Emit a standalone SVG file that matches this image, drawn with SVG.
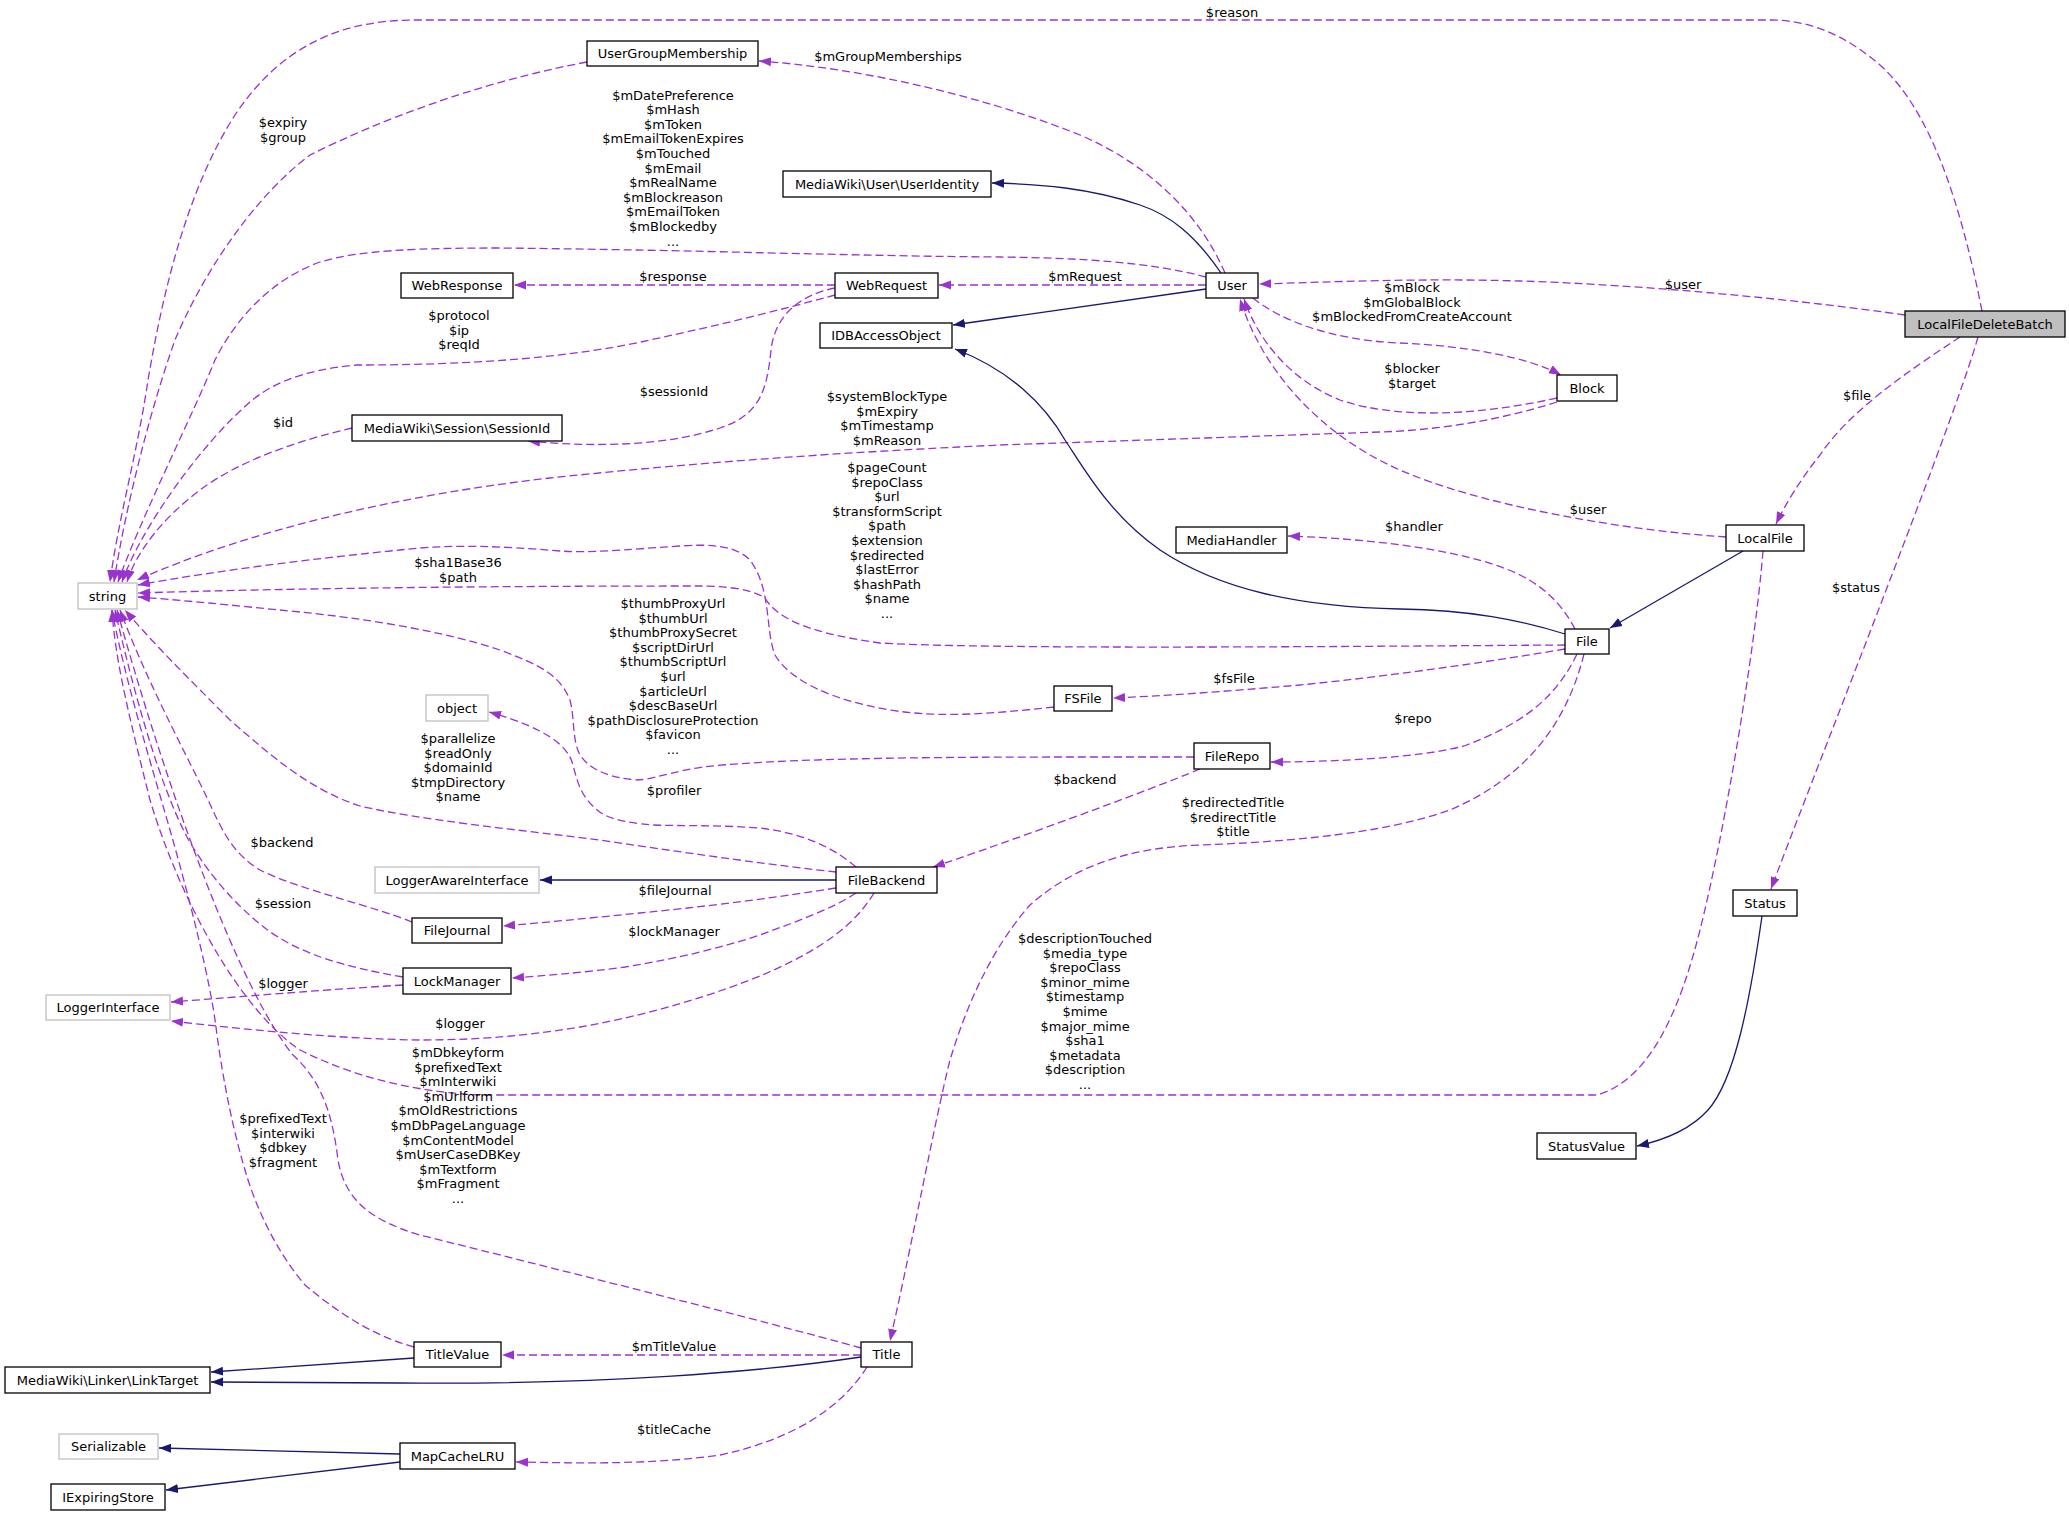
<svg xmlns="http://www.w3.org/2000/svg" width="2069" height="1516" viewBox="0 0 2069 1516">
<style>
text{font-family:"DejaVu Sans","Liberation Sans",sans-serif;font-size:13px;fill:#000}
.nt{text-anchor:middle}
.lb{text-anchor:middle}
.n rect{fill:#fff;stroke:#000;stroke-width:1.3}
.g rect{fill:#fff;stroke:#bfbfbf;stroke-width:1.3}
.c rect{fill:#bfbfbf;stroke:#000;stroke-width:1.3}
.e{fill:none;stroke:#9a32cd;stroke-width:1.3;stroke-dasharray:8,4;marker-end:url(#ap)}
.i{fill:none;stroke:#191970;stroke-width:1.3;marker-end:url(#ab)}
</style>
<defs>
<marker id="ap" markerWidth="13" markerHeight="10" refX="12" refY="5" orient="auto" markerUnits="userSpaceOnUse"><path d="M0,0.5 L12,5 L0,9.5 z" fill="#9a32cd" stroke="none"/></marker>
<marker id="ab" markerWidth="13" markerHeight="10" refX="12" refY="5" orient="auto" markerUnits="userSpaceOnUse"><path d="M0,0.5 L12,5 L0,9.5 z" fill="#191970" stroke="none"/></marker>
</defs>
<rect width="2069" height="1516" fill="#fff"/>
<g id="edges">
<path class="e" d="M1982,311 C1960,200 1930,110 1880,65 C1845,35 1810,20 1770,20 L415,20 C330,20 275,55 235,115 C190,185 165,280 148,380 C138,450 118,520 110,582"/>
<path class="e" d="M1905,315 C1800,300 1650,285 1520,281 C1420,278 1330,282 1259,284"/>
<path class="e" d="M1960,337 C1910,370 1850,410 1820,455 C1800,480 1785,505 1776,524"/>
<path class="e" d="M1978,337 C1955,420 1800,810 1771,889"/>
<path class="i" d="M1743,551 L1610,628"/>
<path class="e" d="M1726,537 C1620,530 1480,505 1400,470 C1320,435 1262,370 1240,299"/>
<path class="e" d="M1557,398 C1480,415 1400,420 1340,400 C1290,380 1258,340 1244,299"/>
<path class="e" d="M1253,298 C1280,320 1330,340 1400,343 C1470,346 1530,358 1561,375"/>
<path class="e" d="M1557,402 C1500,420 1440,430 1380,432 L1000,445 C850,452 700,462 550,478 C400,495 250,530 137,580"/>
<path class="e" d="M1206,277 C1150,262 1080,258 1000,257 C850,256 700,250 500,248 C420,248 360,250 320,262 C270,280 235,320 215,360 C195,410 140,520 118,582"/>
<path class="e" d="M835,295 C780,310 720,325 650,340 C570,358 470,365 357,365 C300,370 270,385 250,402 C200,445 140,530 122,582"/>
<path class="e" d="M835,288 C800,295 775,315 771,350 C767,390 760,415 720,428 C670,445 600,448 528,441"/>
<path class="e" d="M352,428 C300,440 240,460 200,490 C160,520 135,555 127,582"/>
<path class="e" d="M587,62 C480,82 380,120 310,155 C250,200 200,280 175,340 C150,410 125,510 114,582"/>
<path class="e" d="M1225,273 C1200,215 1150,165 1080,135 C980,95 860,68 759,61"/>
<path class="i" d="M1221,273 C1195,235 1170,215 1140,205 C1090,188 1040,184 992,183"/>
<path class="i" d="M1206,289 L953,325"/>
<path class="e" d="M1206,285 L939,285"/>
<path class="e" d="M835,285 L514,285"/>
<path class="i" d="M1565,634 C1520,620 1470,610 1400,609 C1300,607 1220,590 1160,550 C1110,515 1085,470 1065,440 C1045,405 1010,370 955,349"/>
<path class="e" d="M1575,629 C1565,610 1550,590 1520,575 C1480,555 1400,540 1288,536"/>
<path class="e" d="M1565,645 C1400,646 1000,650 880,643 C800,632 775,615 765,598 C750,588 720,586 700,586 C500,586 300,588 138,593"/>
<path class="e" d="M1054,707 C990,714 940,718 890,710 C830,700 790,680 775,655 C765,630 772,590 750,560 C735,545 710,544 680,546 C620,550 590,553 560,551 C500,546 450,544 400,550 C320,558 220,570 138,585"/>
<path class="e" d="M1194,757 C1000,757 800,756 703,767 C670,772 650,780 637,780 C610,778 590,770 580,755 C572,740 575,720 570,700 C560,675 540,665 500,650 C440,630 360,618 300,612 C230,605 180,600 138,597"/>
<path class="e" d="M856,867 C830,845 800,833 760,828 C720,825 680,826 653,825 C620,822 605,818 595,808 C580,795 577,780 573,765 C568,745 545,728 489,712"/>
<path class="e" d="M836,872 C780,866 700,855 600,840 C520,830 420,820 360,806 C310,790 270,755 230,720 C190,680 150,640 125,610"/>
<path class="i" d="M836,880 L540,880"/>
<path class="e" d="M836,888 C760,900 700,907 640,913 C590,918 540,923 503,926"/>
<path class="e" d="M856,893 C830,910 795,922 760,935 C720,948 680,958 625,967 C580,973 540,976 512,978"/>
<path class="e" d="M874,893 C855,925 820,950 767,973 C720,993 650,1015 580,1027 C520,1037 470,1040 420,1040 C340,1039 250,1030 171,1021"/>
<path class="e" d="M412,922 C370,905 300,890 260,870 C235,855 225,835 215,815 C195,770 150,690 120,610"/>
<path class="e" d="M403,977 C350,968 300,955 265,928 C235,905 205,870 187,837 C165,795 140,720 115,610"/>
<path class="e" d="M403,985 C320,990 250,996 171,1002"/>
<path class="e" d="M1763,551 C1755,650 1725,830 1700,930 C1680,1010 1650,1080 1597,1095 L480,1095 C420,1092 360,1080 300,1050 C240,1010 180,900 150,800 C130,720 115,660 112,610"/>
<path class="e" d="M1565,649 C1500,660 1400,675 1300,685 C1220,692 1160,696 1113,698"/>
<path class="e" d="M1577,654 C1555,700 1520,725 1464,746 C1420,758 1330,762 1271,762"/>
<path class="e" d="M1584,654 C1565,730 1520,780 1450,810 C1380,835 1280,842 1200,845 C1120,848 1070,870 1030,905 C990,950 965,1010 950,1060 C935,1120 915,1230 890,1341"/>
<path class="e" d="M1200,769 C1150,790 1000,845 933,867"/>
<path class="e" d="M861,1348 C760,1320 560,1270 420,1235 C370,1220 345,1200 338,1160 C332,1110 320,1080 293,1055 C240,990 170,800 117,610"/>
<path class="e" d="M414,1347 C370,1335 335,1310 305,1285 C275,1250 255,1205 245,1170 C230,1120 220,1060 216,1027 C210,980 190,900 170,830 C150,760 125,680 112,610"/>
<path class="e" d="M861,1355 L502,1355"/>
<path class="i" d="M861,1357 C760,1372 600,1385 400,1383 L211,1382"/>
<path class="i" d="M414,1358 L211,1372"/>
<path class="e" d="M867,1367 C840,1410 790,1440 720,1455 C650,1465 580,1463 516,1462"/>
<path class="i" d="M400,1454 L159,1448"/>
<path class="i" d="M400,1462 L166,1490"/>
<path class="i" d="M1762,916 C1750,1000 1735,1080 1708,1110 C1690,1130 1665,1140 1637,1146"/>
</g>
<g id="labels">
<text class="lb" x="1232" y="17">$reason</text>
<text class="lb" x="888" y="61">$mGroupMemberships</text>
<text class="lb" x="283" y="127">$expiry<tspan x="283" dy="14.6">$group</tspan></text>
<text class="lb" x="673" y="99.5">$mDatePreference<tspan x="673" dy="14.6">$mHash</tspan><tspan x="673" dy="14.6">$mToken</tspan><tspan x="673" dy="14.6">$mEmailTokenExpires</tspan><tspan x="673" dy="14.6">$mTouched</tspan><tspan x="673" dy="14.6">$mEmail</tspan><tspan x="673" dy="14.6">$mRealName</tspan><tspan x="673" dy="14.6">$mBlockreason</tspan><tspan x="673" dy="14.6">$mEmailToken</tspan><tspan x="673" dy="14.6">$mBlockedby</tspan><tspan x="673" dy="14.6">...</tspan></text>
<text class="lb" x="673" y="281">$response</text>
<text class="lb" x="1085" y="281">$mRequest</text>
<text class="lb" x="459" y="320">$protocol<tspan x="459" dy="14.6">$ip</tspan><tspan x="459" dy="14.6">$reqId</tspan></text>
<text class="lb" x="674" y="396">$sessionId</text>
<text class="lb" x="283" y="427">$id</text>
<text class="lb" x="1683" y="289">$user</text>
<text class="lb" x="1412" y="292">$mBlock<tspan x="1412" dy="14.6">$mGlobalBlock</tspan><tspan x="1412" dy="14.6">$mBlockedFromCreateAccount</tspan></text>
<text class="lb" x="1412" y="373">$blocker<tspan x="1412" dy="14.6">$target</tspan></text>
<text class="lb" x="1857" y="400">$file</text>
<text class="lb" x="887" y="401">$systemBlockType<tspan x="887" dy="14.6">$mExpiry</tspan><tspan x="887" dy="14.6">$mTimestamp</tspan><tspan x="887" dy="14.6">$mReason</tspan></text>
<text class="lb" x="887" y="472">$pageCount<tspan x="887" dy="14.6">$repoClass</tspan><tspan x="887" dy="14.6">$url</tspan><tspan x="887" dy="14.6">$transformScript</tspan><tspan x="887" dy="14.6">$path</tspan><tspan x="887" dy="14.6">$extension</tspan><tspan x="887" dy="14.6">$redirected</tspan><tspan x="887" dy="14.6">$lastError</tspan><tspan x="887" dy="14.6">$hashPath</tspan><tspan x="887" dy="14.6">$name</tspan><tspan x="887" dy="14.6">...</tspan></text>
<text class="lb" x="1414" y="531">$handler</text>
<text class="lb" x="1588" y="514">$user</text>
<text class="lb" x="458" y="567">$sha1Base36<tspan x="458" dy="14.6">$path</tspan></text>
<text class="lb" x="673" y="608">$thumbProxyUrl<tspan x="673" dy="14.6">$thumbUrl</tspan><tspan x="673" dy="14.6">$thumbProxySecret</tspan><tspan x="673" dy="14.6">$scriptDirUrl</tspan><tspan x="673" dy="14.6">$thumbScriptUrl</tspan><tspan x="673" dy="14.6">$url</tspan><tspan x="673" dy="14.6">$articleUrl</tspan><tspan x="673" dy="14.6">$descBaseUrl</tspan><tspan x="673" dy="14.6">$pathDisclosureProtection</tspan><tspan x="673" dy="14.6">$favicon</tspan><tspan x="673" dy="14.6">...</tspan></text>
<text class="lb" x="1234" y="683">$fsFile</text>
<text class="lb" x="1856" y="592">$status</text>
<text class="lb" x="1413" y="723">$repo</text>
<text class="lb" x="458" y="743">$parallelize<tspan x="458" dy="14.6">$readOnly</tspan><tspan x="458" dy="14.6">$domainId</tspan><tspan x="458" dy="14.6">$tmpDirectory</tspan><tspan x="458" dy="14.6">$name</tspan></text>
<text class="lb" x="674" y="795">$profiler</text>
<text class="lb" x="1085" y="784">$backend</text>
<text class="lb" x="1233" y="807">$redirectedTitle<tspan x="1233" dy="14.6">$redirectTitle</tspan><tspan x="1233" dy="14.6">$title</tspan></text>
<text class="lb" x="282" y="847">$backend</text>
<text class="lb" x="675" y="895">$fileJournal</text>
<text class="lb" x="283" y="908">$session</text>
<text class="lb" x="674" y="936">$lockManager</text>
<text class="lb" x="283" y="988">$logger</text>
<text class="lb" x="460" y="1028">$logger</text>
<text class="lb" x="1085" y="943">$descriptionTouched<tspan x="1085" dy="14.6">$media_type</tspan><tspan x="1085" dy="14.6">$repoClass</tspan><tspan x="1085" dy="14.6">$minor_mime</tspan><tspan x="1085" dy="14.6">$timestamp</tspan><tspan x="1085" dy="14.6">$mime</tspan><tspan x="1085" dy="14.6">$major_mime</tspan><tspan x="1085" dy="14.6">$sha1</tspan><tspan x="1085" dy="14.6">$metadata</tspan><tspan x="1085" dy="14.6">$description</tspan><tspan x="1085" dy="14.6">...</tspan></text>
<text class="lb" x="458" y="1057">$mDbkeyform<tspan x="458" dy="14.6">$prefixedText</tspan><tspan x="458" dy="14.6">$mInterwiki</tspan><tspan x="458" dy="14.6">$mUrlform</tspan><tspan x="458" dy="14.6">$mOldRestrictions</tspan><tspan x="458" dy="14.6">$mDbPageLanguage</tspan><tspan x="458" dy="14.6">$mContentModel</tspan><tspan x="458" dy="14.6">$mUserCaseDBKey</tspan><tspan x="458" dy="14.6">$mTextform</tspan><tspan x="458" dy="14.6">$mFragment</tspan><tspan x="458" dy="14.6">...</tspan></text>
<text class="lb" x="283" y="1123">$prefixedText<tspan x="283" dy="14.6">$interwiki</tspan><tspan x="283" dy="14.6">$dbkey</tspan><tspan x="283" dy="14.6">$fragment</tspan></text>
<text class="lb" x="674" y="1351">$mTitleValue</text>
<text class="lb" x="674" y="1434">$titleCache</text>
</g>
<g id="LocalFileDeleteBatch" class="c"><rect x="1905" y="311" width="160" height="26"/><text class="nt" x="1985" y="328.5">LocalFileDeleteBatch</text></g>
<g id="User" class="n"><rect x="1206" y="273" width="52" height="25"/><text class="nt" x="1232" y="290">User</text></g>
<g id="UserGroupMembership" class="n"><rect x="587" y="41" width="171" height="25"/><text class="nt" x="672.5" y="58">UserGroupMembership</text></g>
<g id="UserIdentity" class="n"><rect x="783" y="171" width="208" height="26"/><text class="nt" x="887" y="188.5">MediaWiki\User\UserIdentity</text></g>
<g id="WebRequest" class="n"><rect x="835" y="273" width="103" height="25"/><text class="nt" x="886.5" y="290">WebRequest</text></g>
<g id="WebResponse" class="n"><rect x="401" y="273" width="112" height="25"/><text class="nt" x="457" y="290">WebResponse</text></g>
<g id="IDBAccessObject" class="n"><rect x="820" y="323" width="132" height="25"/><text class="nt" x="886" y="340">IDBAccessObject</text></g>
<g id="Block" class="n"><rect x="1557" y="375" width="60" height="26"/><text class="nt" x="1587" y="392.5">Block</text></g>
<g id="SessionId" class="n"><rect x="352" y="415" width="210" height="26"/><text class="nt" x="457" y="432.5">MediaWiki\Session\SessionId</text></g>
<g id="string" class="g"><rect x="78" y="583" width="59" height="26"/><text class="nt" x="107.5" y="600.5">string</text></g>
<g id="LocalFile" class="n"><rect x="1726" y="525" width="78" height="26"/><text class="nt" x="1765" y="542.5">LocalFile</text></g>
<g id="MediaHandler" class="n"><rect x="1176" y="527" width="111" height="26"/><text class="nt" x="1231.5" y="544.5">MediaHandler</text></g>
<g id="File" class="n"><rect x="1565" y="629" width="44" height="25"/><text class="nt" x="1587" y="646">File</text></g>
<g id="FSFile" class="n"><rect x="1054" y="686" width="58" height="25"/><text class="nt" x="1083" y="703">FSFile</text></g>
<g id="object" class="g"><rect x="426" y="695" width="62" height="26"/><text class="nt" x="457" y="712.5">object</text></g>
<g id="FileRepo" class="n"><rect x="1194" y="743" width="76" height="26"/><text class="nt" x="1232" y="760.5">FileRepo</text></g>
<g id="FileBackend" class="n"><rect x="836" y="867" width="101" height="26"/><text class="nt" x="886.5" y="884.5">FileBackend</text></g>
<g id="LoggerAwareInterface" class="g"><rect x="375" y="867" width="164" height="26"/><text class="nt" x="457" y="884.5">LoggerAwareInterface</text></g>
<g id="FileJournal" class="n"><rect x="412" y="918" width="90" height="25"/><text class="nt" x="457" y="935">FileJournal</text></g>
<g id="LockManager" class="n"><rect x="403" y="968" width="108" height="26"/><text class="nt" x="457" y="985.5">LockManager</text></g>
<g id="LoggerInterface" class="g"><rect x="46" y="995" width="124" height="25"/><text class="nt" x="108" y="1012">LoggerInterface</text></g>
<g id="Status" class="n"><rect x="1733" y="890" width="64" height="26"/><text class="nt" x="1765" y="907.5">Status</text></g>
<g id="StatusValue" class="n"><rect x="1537" y="1133" width="99" height="26"/><text class="nt" x="1586.5" y="1150.5">StatusValue</text></g>
<g id="TitleValue" class="n"><rect x="414" y="1342" width="87" height="25"/><text class="nt" x="457.5" y="1359">TitleValue</text></g>
<g id="Title" class="n"><rect x="861" y="1342" width="51" height="25"/><text class="nt" x="886.5" y="1359">Title</text></g>
<g id="LinkTarget" class="n"><rect x="5" y="1367" width="205" height="26"/><text class="nt" x="107.5" y="1384.5">MediaWiki\Linker\LinkTarget</text></g>
<g id="Serializable" class="g"><rect x="59" y="1434" width="99" height="25"/><text class="nt" x="108.5" y="1451">Serializable</text></g>
<g id="MapCacheLRU" class="n"><rect x="400" y="1443" width="115" height="26"/><text class="nt" x="457.5" y="1460.5">MapCacheLRU</text></g>
<g id="IExpiringStore" class="n"><rect x="51" y="1484" width="114" height="26"/><text class="nt" x="108" y="1501.5">IExpiringStore</text></g>
</svg>
